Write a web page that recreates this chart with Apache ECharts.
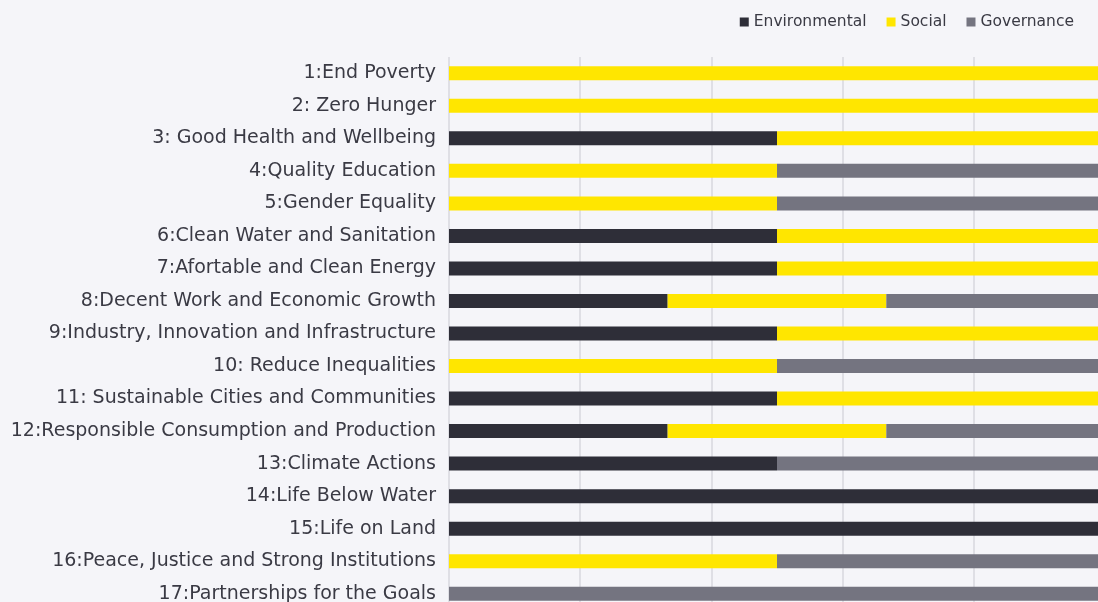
<!DOCTYPE html>
<html>
<head>
<meta charset="utf-8">
<script src="https://cdn.jsdelivr.net/npm/echarts@6/dist/echarts.min.js"></script>
<style>
html,body{margin:0;padding:0;background:#f5f5f9;}
#c{width:1098px;height:602px;}
</style>
</head>
<body>
<div id="c"></div>
<script>
const categories = [
  "1:End Poverty",
  "2: Zero Hunger",
  "3: Good Health and Wellbeing",
  "4:Quality Education",
  "5:Gender Equality",
  "6:Clean Water and Sanitation",
  "7:Afortable and Clean Energy",
  "8:Decent Work and Economic Growth",
  "9:Industry, Innovation and Infrastructure",
  "10: Reduce Inequalities",
  "11: Sustainable Cities and Communities",
  "12:Responsible Consumption and Production",
  "13:Climate Actions",
  "14:Life Below Water",
  "15:Life on Land",
  "16:Peace, Justice and Strong Institutions",
  "17:Partnerships for the Goals"
];
const environmental = [0, 0, 0.5, 0, 0, 0.5, 0.5, 0.3333, 0.5, 0, 0.5, 0.3333, 0.5, 1, 1, 0, 0];
const social        = [1, 1, 0.5, 0.5, 0.5, 0.5, 0.5, 0.3333, 0.5, 0.5, 0.5, 0.3333, 0, 0, 0, 0.5, 0];
const governance    = [0, 0, 0, 0.5, 0.5, 0, 0, 0.3334, 0, 0.5, 0, 0.3334, 0.5, 0, 0, 0.5, 1];
const xTicks = [0, 0.2, 0.4, 0.6, 0.8, 1];

const chart = echarts.init(document.getElementById('c'), null, {renderer: 'canvas'});
const font = '"DejaVu Sans", sans-serif';
function s(name, data, color) {
  return {
    name: name, type: 'bar', stack: 'total', data: data,
    barWidth: 14, itemStyle: {color: color}, emphasis: {disabled: true}
  };
}
chart.setOption({
  backgroundColor: '#f5f5f9',
  animation: false,
  legend: {
    right: 19, top: 9,
    icon: 'rect', itemWidth: 9, itemHeight: 9, itemGap: 20,
    textStyle: {color: '#3a3a44', fontSize: 15.5, fontFamily: font},
    data: ['Environmental', 'Social', 'Governance']
  },
  grid: {left: 449, top: 57, width: 656, height: 553, outerBoundsMode: 'none', containLabel: false},
  xAxis: {
    type: 'value', min: xTicks[0], max: xTicks[xTicks.length - 1], interval: 0.2,
    axisLabel: {show: false}, axisLine: {show: false}, axisTick: {show: false},
    splitLine: {show: true, lineStyle: {color: '#dfdfe5', width: 2}}
  },
  yAxis: {
    type: 'category', data: categories, inverse: true,
    axisLine: {show: false}, axisTick: {show: false},
    axisLabel: {color: '#3a3a44', fontSize: 19, fontFamily: font, margin: 13,
                verticalAlign: 'middle', padding: [0,0,12,0]}
  },
  series: [
    s('Environmental', environmental, '#2e2e38'),
    s('Social', social, '#ffe600'),
    s('Governance', governance, '#747480')
  ]
});
</script>
</body>
</html>
